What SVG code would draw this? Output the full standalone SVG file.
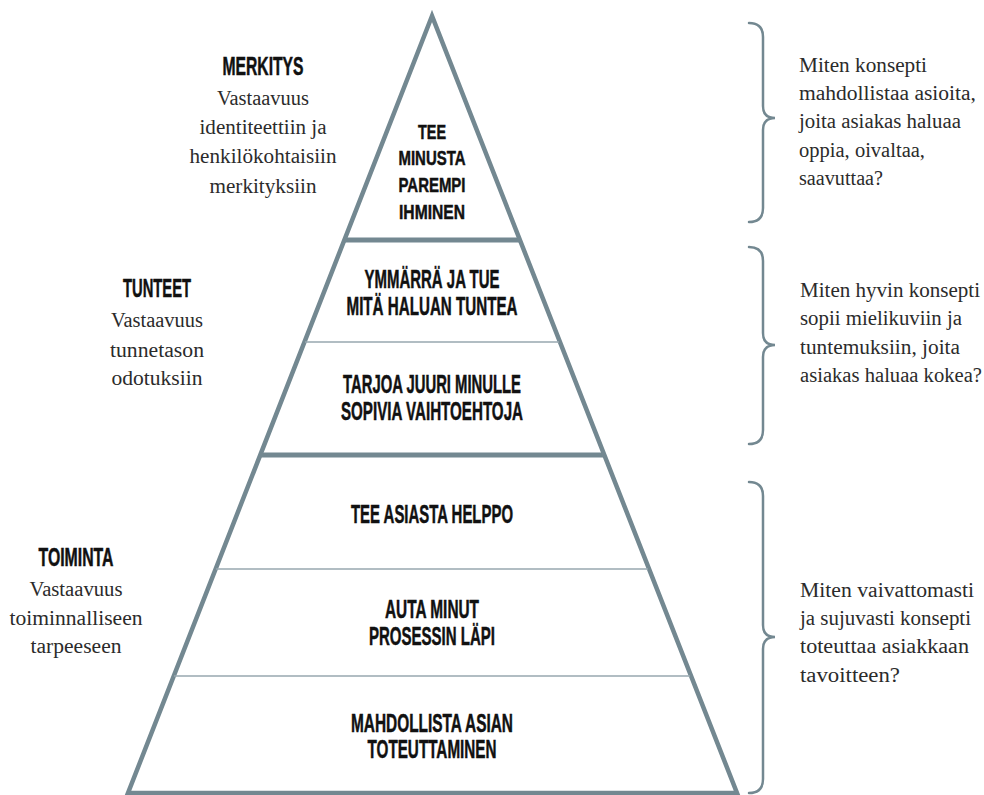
<svg xmlns="http://www.w3.org/2000/svg" width="984" height="795" viewBox="0 0 984 795">
<style>
.h{font-family:"Liberation Sans Narrow","Liberation Sans",sans-serif;font-weight:bold;font-size:25px;fill:#111;stroke:#111;stroke-width:0.5;text-anchor:middle}
.hs{font-size:21px}
.s{font-family:"Liberation Serif","DejaVu Serif",serif;font-size:20.5px;fill:#2b2b2b}
.c{text-anchor:middle}
.outline{fill:none;stroke:#738891;stroke-width:4.5;stroke-linejoin:miter;stroke-miterlimit:20}
.thick{stroke:#738891;stroke-width:5}
.thin{stroke:#97a7af;stroke-width:1.6}
.brace{fill:none;stroke:#738891;stroke-width:2.5;stroke-linecap:round}
</style>
<rect width="984" height="795" fill="#fff"/>
<g id="pyramid">
<polygon class="outline" points="432,16 128,793 737,793"/>
<line class="thick" x1="345" y1="240" x2="519" y2="240"/>
<line class="thin" x1="305" y1="342" x2="559" y2="342"/>
<line class="thick" x1="261" y1="455" x2="603" y2="455"/>
<line class="thin" x1="216" y1="569" x2="648" y2="569"/>
<line class="thin" x1="174" y1="676" x2="690" y2="676"/>
</g>
<g id="connectors">
<path class="brace" d="M749,23 Q763,23 763,37 L763,106 Q763,118 775,118 Q763,118 763,130 L763,208 Q763,222 749,222"/>
<path class="brace" d="M749,247 Q763,247 763,261 L763,333 Q763,345 775,345 Q763,345 763,357 L763,430 Q763,444 749,444"/>
<path class="brace" d="M749,482 Q763,482 763,496 L763,625 Q763,637 775,637 Q763,637 763,649 L763,779 Q763,793 749,793"/>
</g>
<g id="level-merkitys">
<text class="h hs" x="432" y="139" textLength="28" lengthAdjust="spacingAndGlyphs">TEE</text>
<text class="h hs" x="432" y="165" textLength="67" lengthAdjust="spacingAndGlyphs">MINUSTA</text>
<text class="h hs" x="432" y="192" textLength="67" lengthAdjust="spacingAndGlyphs">PAREMPI</text>
<text class="h hs" x="432" y="219" textLength="66" lengthAdjust="spacingAndGlyphs">IHMINEN</text>
</g>
<g id="level-ymmarra">
<text class="h" x="432" y="288" textLength="135" lengthAdjust="spacingAndGlyphs">YMMÄRRÄ JA TUE</text>
<text class="h" x="432" y="315" textLength="171" lengthAdjust="spacingAndGlyphs">MITÄ HALUAN TUNTEA</text>
</g>
<g id="level-tarjoa">
<text class="h" x="432" y="393" textLength="178" lengthAdjust="spacingAndGlyphs">TARJOA JUURI MINULLE</text>
<text class="h" x="432" y="420" textLength="182" lengthAdjust="spacingAndGlyphs">SOPIVIA VAIHTOEHTOJA</text>
</g>
<g id="level-helppo">
<text class="h" x="432" y="523" textLength="162" lengthAdjust="spacingAndGlyphs">TEE ASIASTA HELPPO</text>
</g>
<g id="level-auta">
<text class="h" x="432" y="618" textLength="94" lengthAdjust="spacingAndGlyphs">AUTA MINUT</text>
<text class="h" x="432" y="645" textLength="126" lengthAdjust="spacingAndGlyphs">PROSESSIN LÄPI</text>
</g>
<g id="level-mahdollista">
<text class="h" x="432" y="732" textLength="162" lengthAdjust="spacingAndGlyphs">MAHDOLLISTA ASIAN</text>
<text class="h" x="432" y="758" textLength="129" lengthAdjust="spacingAndGlyphs">TOTEUTTAMINEN</text>
</g>
<g id="label-merkitys">
<text class="h" x="263" y="75" textLength="81" lengthAdjust="spacingAndGlyphs">MERKITYS</text>
<text class="s c" x="263" y="105" textLength="92" lengthAdjust="spacingAndGlyphs">Vastaavuus</text>
<text class="s c" x="263" y="134" textLength="127" lengthAdjust="spacingAndGlyphs">identiteettiin ja</text>
<text class="s c" x="263" y="163" textLength="147" lengthAdjust="spacingAndGlyphs">henkilökohtaisiin</text>
<text class="s c" x="263" y="193" textLength="107" lengthAdjust="spacingAndGlyphs">merkityksiin</text>
</g>
<g id="label-tunteet">
<text class="h" x="157" y="297" textLength="68" lengthAdjust="spacingAndGlyphs">TUNTEET</text>
<text class="s c" x="157" y="327" textLength="92" lengthAdjust="spacingAndGlyphs">Vastaavuus</text>
<text class="s c" x="157" y="357" textLength="94" lengthAdjust="spacingAndGlyphs">tunnetason</text>
<text class="s c" x="157" y="385" textLength="91" lengthAdjust="spacingAndGlyphs">odotuksiin</text>
</g>
<g id="label-toiminta">
<text class="h" x="76" y="566" textLength="75" lengthAdjust="spacingAndGlyphs">TOIMINTA</text>
<text class="s c" x="76" y="596" textLength="93" lengthAdjust="spacingAndGlyphs">Vastaavuus</text>
<text class="s c" x="76" y="625" textLength="133" lengthAdjust="spacingAndGlyphs">toiminnalliseen</text>
<text class="s c" x="76" y="653" textLength="91" lengthAdjust="spacingAndGlyphs">tarpeeseen</text>
</g>
<g id="question-merkitys">
<text class="s" x="799" y="72" textLength="128" lengthAdjust="spacingAndGlyphs">Miten konsepti</text>
<text class="s" x="799" y="100" textLength="177" lengthAdjust="spacingAndGlyphs">mahdollistaa asioita,</text>
<text class="s" x="799" y="128" textLength="162" lengthAdjust="spacingAndGlyphs">joita asiakas haluaa</text>
<text class="s" x="799" y="157" textLength="126" lengthAdjust="spacingAndGlyphs">oppia, oivaltaa,</text>
<text class="s" x="799" y="185" textLength="84" lengthAdjust="spacingAndGlyphs">saavuttaa?</text>
</g>
<g id="question-tunteet">
<text class="s" x="800" y="297" textLength="180" lengthAdjust="spacingAndGlyphs">Miten hyvin konsepti</text>
<text class="s" x="800" y="325" textLength="162" lengthAdjust="spacingAndGlyphs">sopii mielikuviin ja</text>
<text class="s" x="800" y="354" textLength="160" lengthAdjust="spacingAndGlyphs">tuntemuksiin, joita</text>
<text class="s" x="800" y="382" textLength="182" lengthAdjust="spacingAndGlyphs">asiakas haluaa kokea?</text>
</g>
<g id="question-toiminta">
<text class="s" x="800" y="597" textLength="174" lengthAdjust="spacingAndGlyphs">Miten vaivattomasti</text>
<text class="s" x="800" y="625" textLength="171" lengthAdjust="spacingAndGlyphs">ja sujuvasti konsepti</text>
<text class="s" x="800" y="653" textLength="169" lengthAdjust="spacingAndGlyphs">toteuttaa asiakkaan</text>
<text class="s" x="800" y="682" textLength="100" lengthAdjust="spacingAndGlyphs">tavoitteen?</text>
</g>
</svg>
